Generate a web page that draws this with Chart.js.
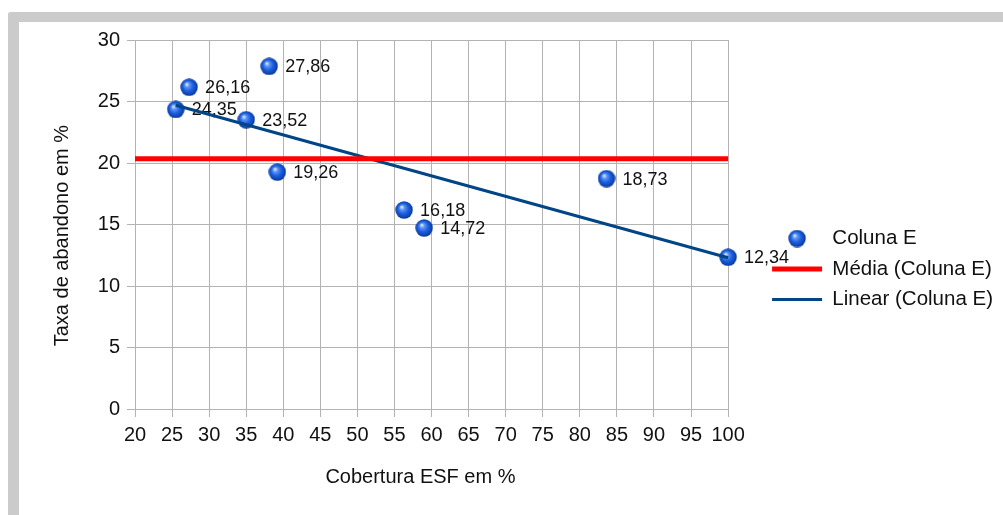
<!DOCTYPE html>
<html>
<head>
<meta charset="utf-8">
<script src="https://cdn.jsdelivr.net/npm/chart.js@4.4.1/dist/chart.umd.min.js"></script>
<style>
  html, body { margin: 0; padding: 0; background: #ffffff; width: 1003px; height: 515px; overflow: hidden; }
  #frame { position: absolute; left: 8px; top: 12px; width: 1010px; height: 500px;
           border-top: 10px solid #cbcbcb; border-left: 11px solid #cbcbcb; border-bottom: 2px solid #e4e4e4;
           border-top-left-radius: 3px; box-sizing: content-box; }
  #wrap { position: absolute; left: 0; top: 0; width: 1003px; height: 515px; z-index: 2; }
</style>
</head>
<body>
<div id="frame"></div>
<div id="wrap"><canvas id="chart" width="1003" height="515"></canvas></div>
<script>
// ---- data ----
const coverage = [25.5, 27.3, 38.1, 35.0, 39.2, 56.3, 59.0, 83.6, 100];
const dropout  = [24.35, 26.16, 27.86, 23.52, 19.26, 16.18, 14.72, 18.73, 12.34];
const meanX = [20, 100];
const meanY = [20.35, 20.35];
const trendX = [25.5, 100];
const trendY = [24.7, 12.3];
const xTickValues = [20, 25, 30, 35, 40, 45, 50, 55, 60, 65, 70, 75, 80, 85, 90, 95, 100];
const yTickValues = [0, 5, 10, 15, 20, 25, 30];
const seriesNames = ['Coluna E', 'Média (Coluna E)', 'Linear (Coluna E)'];
const xTitle = 'Cobertura ESF em %';
const yTitle = 'Taxa de abandono em %';

// ---- sphere marker ----
function makeSphere(d) {
  const c = document.createElement('canvas');
  c.width = d; c.height = d;
  const g = c.getContext('2d');
  const r = d / 2;
  const grad = g.createRadialGradient(r - 2.5, r - 3, 0.5, r, r, r);
  grad.addColorStop(0, '#d6e6ff');
  grad.addColorStop(0.22, '#5d95f5');
  grad.addColorStop(0.55, '#1d5fe0');
  grad.addColorStop(0.85, '#0d45b4');
  grad.addColorStop(1, '#0a2f80');
  g.fillStyle = grad;
  g.beginPath();
  g.arc(r, r, r - 0.3, 0, Math.PI * 2);
  g.fill();
  return c;
}
const sphere = makeSphere(18);

const pts = coverage.map((x, i) => ({x: x, y: dropout[i]}));
const meanPts = meanX.map((x, i) => ({x: x, y: meanY[i]}));
const trendPts = trendX.map((x, i) => ({x: x, y: trendY[i]}));

const fmt = v => v.toFixed(2).replace('.', ',');

const labelPlugin = {
  id: 'pointLabels',
  afterDatasetDraw(chart, args) {
    if (args.index !== 0) return;
    const ctx = chart.ctx;
    const meta = chart.getDatasetMeta(0);
    ctx.save();
    ctx.font = '18px "Liberation Sans", Arial, sans-serif';
    ctx.fillStyle = '#111111';
    ctx.textAlign = 'left';
    ctx.textBaseline = 'middle';
    meta.data.forEach((el, i) => {
      ctx.fillText(fmt(dropout[i]), el.x + 16, el.y + 1);
    });
    ctx.restore();
  }
};

// let the legend take the width its labels need
const legendWidthPlugin = {
  id: 'legendWidth',
  beforeLayout(chart) {
    const lg = chart.legend;
    if (lg && !lg._patched) {
      const orig = lg.fit;
      lg.fit = function () { this.maxWidth = 400; orig.call(this); };
      lg._patched = true;
    }
  }
};

const gridColor = '#b3b3b3';
const font = (s) => ({family: '"Liberation Sans", Arial, sans-serif', size: s});

new Chart(document.getElementById('chart'), {
  type: 'scatter',
  data: {
    datasets: [
      { label: seriesNames[0], data: pts, order: 1, pointStyle: sphere, pointRadius: 9,
        pointHoverRadius: 9, backgroundColor: '#1d5fe0', borderColor: '#1d5fe0', showLine: false, clip: false },
      { label: seriesNames[1], data: meanPts, order: 0, showLine: true, pointRadius: 0, pointStyle: 'line',
        borderColor: '#ff0000', backgroundColor: '#ff0000', borderWidth: 5, clip: false },
      { label: seriesNames[2], data: trendPts, order: 0, showLine: true, pointRadius: 0, pointStyle: 'line',
        borderColor: '#004586', backgroundColor: '#004586', borderWidth: 3, clip: false }
    ]
  },
  options: {
    responsive: false,
    animation: false,
    events: [],
    layout: { padding: { left: 20, top: 40, right: 0, bottom: 17 } },
    scales: {
      x: {
        type: 'linear', position: 'bottom', min: 20, max: 100,
        afterBuildTicks: s => { s.ticks = xTickValues.map(v => ({value: v})); },
        afterFit: s => { s.height = 89; },
        grid: { color: gridColor, lineWidth: 1, tickLength: 8, tickColor: gridColor },
        border: { color: gridColor, width: 1 },
        ticks: { font: font(20), color: '#111111', padding: 6, maxRotation: 0, autoSkip: false },
        title: { display: true, text: xTitle + '    ', font: font(20), color: '#111111', padding: { top: 0, bottom: 9 } }
      },
      y: {
        type: 'linear', position: 'left', min: 0, max: 30,
        afterBuildTicks: s => { s.ticks = yTickValues.map(v => ({value: v})); },
        afterFit: s => { s.width = 115; },
        grid: { color: gridColor, lineWidth: 1, tickLength: 8, tickColor: gridColor },
        border: { color: gridColor, width: 1 },
        ticks: { font: font(20), color: '#111111', padding: 7 },
        title: { display: true, text: yTitle + '    ', font: font(20), color: '#111111', padding: { top: 30, bottom: 0 } }
      },
      gap: {
        type: 'linear', position: 'right', display: true, min: 0, max: 1,
        afterFit: s => { s.width = 34; },
        grid: { display: false, drawTicks: false },
        border: { display: false },
        ticks: { display: false }
      }
    },
    plugins: {
      tooltip: { enabled: false },
      title: { display: false },
      legend: {
        display: true, position: 'right', align: 'center',
        labels: {
          usePointStyle: true, pointStyleWidth: 50, padding: 10,
          font: font(20.5), color: '#111111',
          sort: (a, b) => a.datasetIndex - b.datasetIndex
        }
      }
    }
  },
  plugins: [labelPlugin, legendWidthPlugin]
});
</script>
</body>
</html>
